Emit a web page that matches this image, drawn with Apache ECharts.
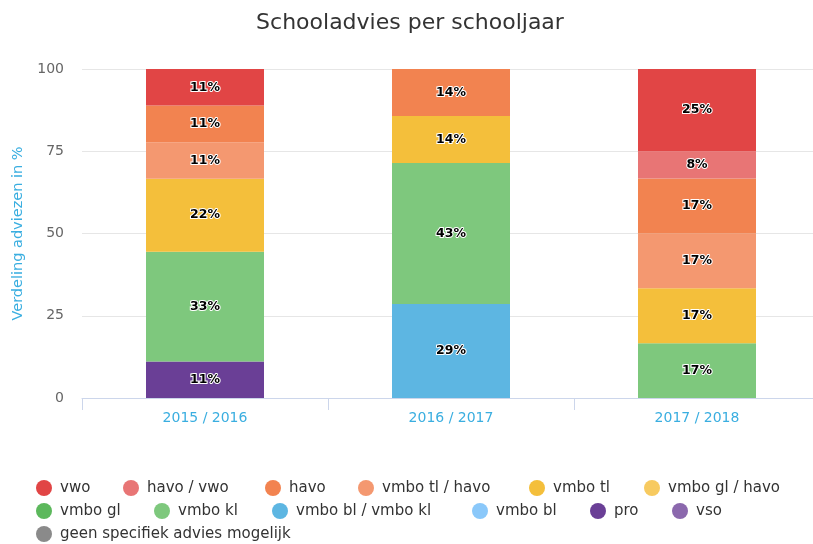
<!DOCTYPE html>
<html>
<head>
<meta charset="utf-8">
<script src="https://cdn.jsdelivr.net/npm/echarts@6/dist/echarts.min.js"></script>
<style>html,body{margin:0;padding:0;background:#fff;overflow:hidden;width:813px;height:544px}#chart{width:820px;height:544px}</style>
</head>
<body>
<div id="chart"></div>
<script>
// ---- data ----
var categories = ['2015 / 2016', '2016 / 2017', '2017 / 2018'];
var seriesNames = ['vwo', 'havo / vwo', 'havo', 'vmbo tl / havo', 'vmbo tl', 'vmbo gl / havo',
  'vmbo gl', 'vmbo kl', 'vmbo bl / vmbo kl', 'vmbo bl', 'pro', 'vso', 'geen specifiek advies mogelijk'];
var vwo          = [11.11, null, 25];
var havoVwo      = [null, null, 8.33];
var havo         = [11.11, 14.29, 16.67];
var vmboTlHavo   = [11.11, null, 16.67];
var vmboTl       = [22.22, 14.29, 16.67];
var vmboGlHavo   = [null, null, null];
var vmboGl       = [null, null, null];
var vmboKl       = [33.33, 42.86, 16.67];
var vmboBlKl     = [null, 28.57, null];
var vmboBl       = [null, null, null];
var pro          = [11.11, null, null];
var vso          = [null, null, null];
var geen         = [null, null, null];
var yTicks = [0, 25, 50, 75, 100];

var seriesValues = [vwo, havoVwo, havo, vmboTlHavo, vmboTl, vmboGlHavo, vmboGl, vmboKl, vmboBlKl, vmboBl, pro, vso, geen];
var colors = ['#e14545', '#e87575', '#f28350', '#f49870', '#f4bf3b', '#f7ca60',
  '#5cb85c', '#7ec87d', '#5db6e2', '#8ac8fa', '#6a3f96', '#8b68ad', '#8a8a8a'];

// legend layout (circle centers)
var legendPos = [
  [44, 489], [131, 489], [273, 489], [366, 489], [537, 489], [652, 489],
  [44, 512], [162, 512], [280, 512], [480, 512], [598, 512], [680, 512],
  [44, 535]
];

var series = [];
for (var i = seriesNames.length - 1; i >= 0; i--) {
  series.push({
    name: seriesNames[i],
    type: 'bar',
    stack: 'total',
    barWidth: 118,
    data: seriesValues[i],
    itemStyle: { color: colors[i] },
    label: {
      show: true,
      position: 'inside',
      formatter: function (p) { return Math.round(p.value) + '%'; },
      color: '#000',
      fontFamily: 'DejaVu Sans',
      fontSize: 12.5,
      fontWeight: 'bold',
      textBorderColor: '#fff',
      textBorderWidth: 2
    },
    emphasis: { disabled: true },
    animation: false
  });
}

var legends = seriesNames.map(function (n, i) {
  return {
    data: [{ name: n, itemStyle: { color: colors[i] } }],
    left: legendPos[i][0] - 8,
    top: legendPos[i][1] - 9,
    padding: 0,
    icon: 'circle',
    itemWidth: 16,
    itemHeight: 16,
    selectedMode: false,
    textStyle: { fontFamily: 'DejaVu Sans', fontSize: 15, color: '#333', padding: [0, 0, 0, 3] }
  };
});

var chart = echarts.init(document.getElementById('chart'));
chart.setOption({
  animation: false,
  title: {
    text: 'Schooladvies per schooljaar',
    left: 'center',
    top: 7,
    textStyle: { fontFamily: 'DejaVu Sans', fontSize: 22, fontWeight: 'normal', color: '#333' }
  },
  legend: legends,
  grid: { left: 82, right: 0, top: 69, height: 329, containLabel: false },
  xAxis: {
    type: 'category',
    data: categories,
    axisLine: { lineStyle: { color: '#ccd6eb' } },
    axisTick: { show: true, length: 12, lineStyle: { color: '#ccd6eb' } },
    axisLabel: { color: '#3aaee0', fontFamily: 'DejaVu Sans', fontSize: 14, margin: 13 }
  },
  yAxis: {
    type: 'value',
    min: yTicks[0],
    max: yTicks[yTicks.length - 1],
    interval: 25,
    name: 'Verdeling adviezen in %',
    nameLocation: 'middle',
    nameGap: 56,
    nameTextStyle: { color: '#3aaee0', fontFamily: 'DejaVu Sans', fontSize: 14.5 },
    axisLine: { show: false },
    axisTick: { show: false },
    axisLabel: { color: '#666', fontFamily: 'DejaVu Sans', fontSize: 14, margin: 18 },
    splitLine: { lineStyle: { color: '#e6e6e6' } }
  },
  series: series
});
</script>
</body>
</html>
